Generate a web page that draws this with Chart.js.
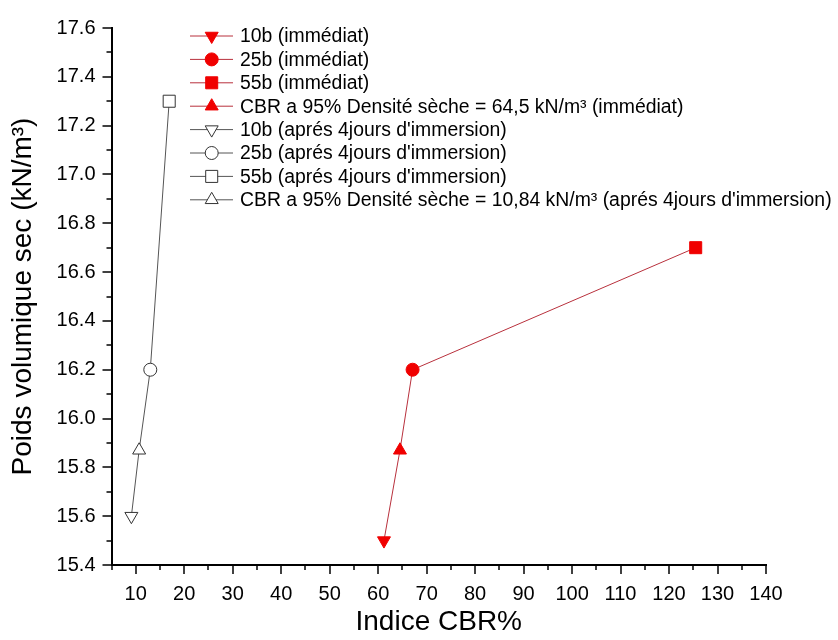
<!DOCTYPE html>
<html><head><meta charset="utf-8">
<script src="https://cdn.jsdelivr.net/npm/chart.js@4/dist/chart.umd.min.js"></script>
<style>html,body{margin:0;padding:0;background:#fff}#wrap{width:838px;height:640px;position:relative}</style>
</head><body><div id="wrap"><canvas id="c" width="838" height="640"></canvas></div>
<script>
// ---- data (legend order: 10b, 25b, 55b, CBR 95%) ----
const legendLabels = [
  '10b (immédiat)',
  '25b (immédiat)',
  '55b (immédiat)',
  'CBR a 95% Densité sèche = 64,5 kN/m³ (immédiat)',
  "10b (aprés 4jours d'immersion)",
  "25b (aprés 4jours d'immersion)",
  "55b (aprés 4jours d'immersion)",
  "CBR a 95% Densité sèche = 10,84 kN/m³ (aprés 4jours d'immersion)"
];
const cbrImmediat   = [61.2, 67.1, 125.5, 64.5];
const densImmediat  = [15.5, 16.2, 16.7, 15.87];
const cbrImmersion  = [9.1, 13.0, 16.9, 10.7];
const densImmersion = [15.6, 16.2, 17.3, 15.87];
const xTitle = 'Indice CBR%';
const yTitle = 'Poids volumique sec (kN/m³)';
const xRange = [5, 140];
const yRange = [15.4, 17.6];

// ---- styles ----
const FONT = '"Liberation Sans", Arial, sans-serif';
const RED = '#f00000', RED_LINE = '#b8303c', GREY_LINE = '#555555', BLACK_MK = '#333333';
const markerStyles = [
  {pointStyle:'triangle', rotation:180, radius:7.5},
  {pointStyle:'circle', rotation:0, radius:6.5},
  {pointStyle:'rect', rotation:0, radius:8.5},
  {pointStyle:'triangle', rotation:0, radius:7.5}
];

function pts(xs, ys){ return xs.map((x,i)=>({x:x, y:ys[i]})); }
const ptsImm = pts(cbrImmediat, densImmediat);
const ptsImr = pts(cbrImmersion, densImmersion);

const datasets = [];
const legendItems = [];
[[ptsImm, true], [ptsImr, false]].forEach(([arr, filled], g) => {
  arr.forEach((p, i) => {
    const m = markerStyles[i];
    const ds = {
      label: legendLabels[g*4+i],
      data: [p],
      pointStyle: m.pointStyle, rotation: m.rotation,
      pointRadius: m.radius, pointHoverRadius: m.radius,
      backgroundColor: filled ? RED : '#ffffff',
      borderColor: filled ? RED : BLACK_MK,
      pointBorderWidth: 1,
      showLine: false
    };
    datasets.push(ds);
    legendItems.push({label: ds.label, m: m, fill: ds.backgroundColor, stroke: ds.borderColor,
                      line: filled ? RED_LINE : GREY_LINE});
  });
});
// connecting lines (drawn beneath markers)
datasets.push({label:'_lineImm', data: ptsImm.slice().sort((a,b)=>a.x-b.x), showLine:true,
  borderColor: RED_LINE, borderWidth:1, pointRadius:0, pointHoverRadius:0, fill:false});
datasets.push({label:'_lineImr', data: ptsImr.slice().sort((a,b)=>a.x-b.x), showLine:true,
  borderColor: GREY_LINE, borderWidth:1, pointRadius:0, pointHoverRadius:0, fill:false});

const tickPlugin = {
  id:'ticksMinorMajor',
  afterDraw(chart){
    const ctx = chart.ctx, xs = chart.scales.x, ys = chart.scales.y;
    ctx.save();
    ctx.strokeStyle = '#000'; ctx.lineWidth = 1.5;
    xs.ticks.forEach(t => {
      const px = Math.round(xs.getPixelForValue(t.value));
      const major = Math.round(t.value) % 10 === 0;
      ctx.beginPath(); ctx.moveTo(px, xs.top); ctx.lineTo(px, xs.top + (major ? 9 : 5)); ctx.stroke();
    });
    ys.ticks.forEach(t => {
      const py = Math.round(ys.getPixelForValue(t.value));
      const major = Math.round(t.value*10) % 2 === 0;
      ctx.beginPath(); ctx.moveTo(ys.right, py); ctx.lineTo(ys.right - (major ? 9 : 5), py); ctx.stroke();
    });
    ctx.restore();
  }
};

const legendPlugin = {
  id:'insideLegend',
  afterDraw(chart){
    const ctx = chart.ctx;
    ctx.save();
    ctx.font = '19.4px ' + FONT;
    ctx.textBaseline = 'middle';
    ctx.textAlign = 'left';
    legendItems.forEach((it, i) => {
      const y = 36 + i*23.4;
      ctx.strokeStyle = it.line; ctx.lineWidth = 1;
      ctx.beginPath(); ctx.moveTo(190, y); ctx.lineTo(233, y); ctx.stroke();
      ctx.fillStyle = it.fill; ctx.strokeStyle = it.stroke; ctx.lineWidth = 1;
      Chart.helpers.drawPoint(ctx, {pointStyle: it.m.pointStyle, rotation: it.m.rotation,
        radius: it.m.radius, borderWidth: 1}, 211.7, y);
      ctx.fillStyle = '#000';
      ctx.fillText(it.label, 240, y + 1);
    });
    ctx.restore();
  }
};

new Chart(document.getElementById('c'), {
  type: 'scatter',
  data: { datasets },
  plugins: [tickPlugin, legendPlugin],
  options: {
    responsive: false, animation: false, devicePixelRatio: 1, events: [],
    layout: { padding: { left: 0, right: 72, top: 23, bottom: 0 } },
    plugins: { legend: { display: false }, tooltip: { enabled: false } },
    scales: {
      x: {
        type: 'linear', min: xRange[0], max: xRange[1],
        afterFit(s){ s.height = 75; },
        grid: { display: true, drawOnChartArea: false, drawTicks: false },
        border: { display: true, color: '#000', width: 2 },
        ticks: { stepSize: 5, autoSkip: false, maxRotation: 0, padding: 17, color: '#000',
          font: { family: FONT, size: 20 },
          callback: v => (Math.round(v) % 10 === 0 ? String(Math.round(v)) : '') },
        title: { display: true, text: xTitle, color: '#000', font: { family: FONT, size: 28 },
          padding: { top: 0, bottom: 1 } }
      },
      y: {
        type: 'linear', min: yRange[0], max: yRange[1],
        afterFit(s){ s.width = 111.5; },
        grid: { display: true, drawOnChartArea: false, drawTicks: false },
        border: { display: true, color: '#000', width: 2 },
        ticks: { stepSize: 0.1, autoSkip: false, padding: 16, color: '#000',
          font: { family: FONT, size: 20 },
          callback: v => (Math.round(v*10) % 2 === 0 ? v.toFixed(1) : '') },
        title: { display: true, text: yTitle, color: '#000', font: { family: FONT, size: 28 },
          padding: { top: 6, bottom: 0 } }
      }
    }
  }
});
</script></body></html>
